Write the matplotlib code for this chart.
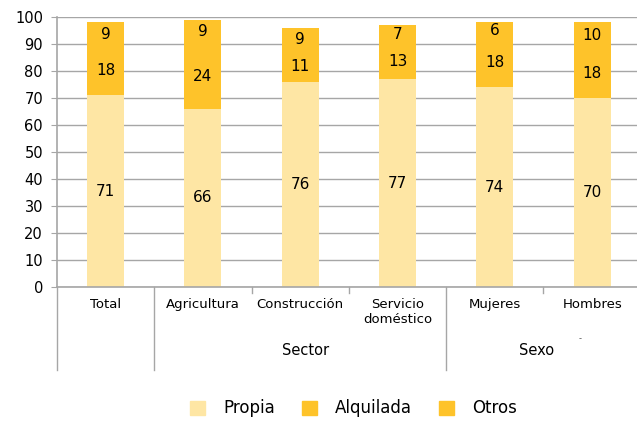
import matplotlib.pyplot as plt
import numpy as np
from matplotlib.patches import Patch

plt.rcParams['font.family'] = ['DejaVu Sans']

# datos
categorias = ['Total', 'Agricultura', 'Construcción', 'Servicio\ndoméstico', 'Mujeres', 'Hombres']
propia = [71, 66, 76, 77, 74, 70]
alquilada = [18, 24, 11, 13, 18, 18]
otros = [9, 9, 9, 7, 6, 10]
grupos = ['Sector', 'Sexo']
series = ['Propia', 'Alquilada', 'Otros']

c_claro = '#FEE6A4'
c_oscuro = '#FEC32A'
gris = '#A6A6A6'

W, H = 637, 421
fig = plt.figure(figsize=(W / 100, H / 100), dpi=100)
# ejes: 0 en y=287 px, 100 en y=17 px, izquierda x=57, categorias ~97 px
ax = fig.add_axes([57 / W, (H - 287) / H, 6 * 97.3 / W, 270 / H])

x = np.arange(len(categorias))
ancho = 0.38
propia = np.array(propia)
alquilada = np.array(alquilada)
otros = np.array(otros)

ax.bar(x, propia, ancho, color=c_claro, zorder=2)
ax.bar(x, alquilada, ancho, bottom=propia, color=c_oscuro, zorder=2)
ax.bar(x, otros, ancho, bottom=propia + alquilada, color=c_oscuro, zorder=2)

# etiquetas de valores
for i in range(len(x)):
    ax.text(x[i], propia[i] / 2, str(propia[i]), ha='center', va='center', fontsize=11, zorder=3)
    ax.text(x[i], propia[i] + alquilada[i] / 2, str(alquilada[i]), ha='center', va='center', fontsize=11, zorder=3)
    ax.text(x[i], propia[i] + alquilada[i] + otros[i] / 2, str(otros[i]), ha='center', va='center', fontsize=11, zorder=3)

ax.set_xlim(-0.5, 5.5)
ax.set_ylim(0, 100)
ax.set_yticks(np.arange(0, 101, 10))
ax.tick_params(axis='y', labelsize=10.5, length=4, color=gris, pad=6)
ax.yaxis.grid(True, color=gris, linewidth=1, zorder=0)
ax.set_xticks([])
for s in ['top', 'right']:
    ax.spines[s].set_visible(False)
ax.spines['left'].set_color(gris)
ax.spines['bottom'].set_color(gris)
ax.spines['left'].set_linewidth(1.2)
ax.spines['bottom'].set_linewidth(1.2)

# eje de categorias con grupos
trans = ax.get_xaxis_transform()
for xs in [-0.5, 0.5, 3.5]:
    ax.plot([xs, xs], [0, -0.307], transform=trans, color=gris, lw=1, clip_on=False)
for xs in [1.5, 2.5, 4.5]:
    ax.plot([xs, xs], [0, -0.022], transform=trans, color=gris, lw=1, clip_on=False)

for i, c in enumerate(categorias):
    ax.text(x[i], -0.04, c, transform=trans, ha='center', va='top', fontsize=9.5, linespacing=1.25)

ax.text(2.05, -0.237, grupos[0], transform=trans, ha='center', va='center', fontsize=10.5)
ax.text(4.43, -0.237, grupos[1], transform=trans, ha='center', va='center', fontsize=10.5)
ax.text(4.88, -0.19, '-', transform=trans, ha='center', va='center', fontsize=6, color='#555555')

handles = [Patch(color=c_claro), Patch(color=c_oscuro), Patch(color=c_oscuro)]
fig.legend(handles, series, loc='center', bbox_to_anchor=(0.555, 0.03), ncol=3,
           frameon=False, fontsize=12, handlelength=0.9, handleheight=0.9,
           columnspacing=1.6, handletextpad=1.1)

fig.savefig('out.png', dpi=100)
